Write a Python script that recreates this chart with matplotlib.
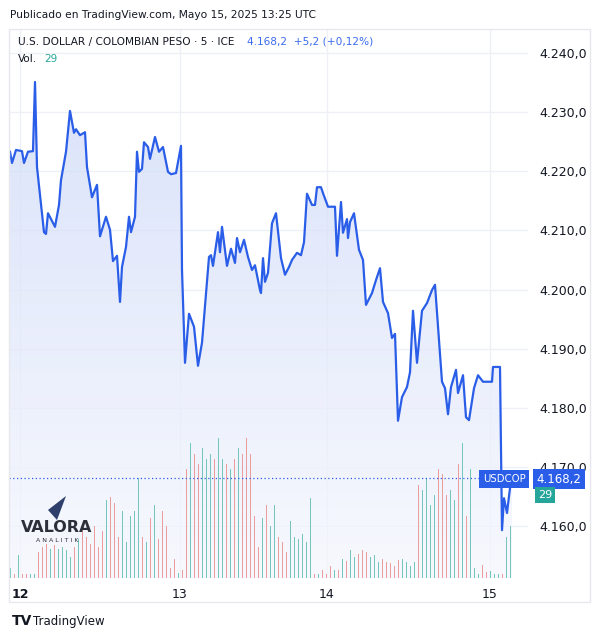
import numpy as np
import matplotlib
matplotlib.use("Agg")
import matplotlib.pyplot as plt
from matplotlib.colors import LinearSegmentedColormap
from matplotlib.patches import Polygon, Rectangle

# ---- data ----
t = [10,12,16,22,24,28,33,35,37,44,46,48,55,59,61,66,70,74,76,80,85,87,92,97,100,106,110,113,117,120,
     122,126,129,131,135,137,139,142,144,148,150,155,159,163,168,171,176,181,182,185,189,194,198,202,209,
     211,213,218,220,222,227,231,235,237,240,244,248,252,255,260,261,263,265,268,272,276,281,285,289,292,
     297,301,304,307,312,315,317,321,323,328,335,337,341,343,347,348,350,354,359,363,366,372,376,380,383,
     388,392,395,398,402,407,410,413,417,422,427,432,435,442,445,448,451,456,458,463,466,469,474,478,483,
     492,493,500,502,504,507,510,512]
price = [4223.3,4221.4,4223.6,4223.4,4221.4,4223.3,4223.4,4235.1,4220.7,4209.7,4209.4,4212.9,4210.6,4214.3,4218.5,
         4223.3,4230.2,4226.5,4227.1,4226.1,4226.6,4220.7,4215.6,4217.7,4209.0,4212.3,4210.1,4204.8,4205.7,4197.9,
         4203.8,4207.2,4212.3,4209.7,4212.3,4223.3,4219.9,4220.4,4224.9,4224.1,4222.1,4225.8,4223.3,4224.1,4219.9,
         4219.5,4219.7,4224.3,4203.3,4187.6,4195.9,4193.7,4187.1,4191.0,4205.5,
         4205.8,4204.0,4209.7,4206.3,4210.6,4204.0,4206.9,4204.5,4208.7,4206.3,4208.4,4205.5,4203.3,4204.1,4199.9,
         4199.4,4205.3,4201.3,4202.8,4211.2,4212.9,4205.3,4202.5,4203.8,4205.0,
         4206.2,4205.8,4208.0,4216.2,4214.3,4214.3,4217.3,4217.3,4216.3,4214.0,4214.0,4205.7,4214.8,4209.6,4211.9,
         4208.7,4211.4,4212.9,4206.7,4205.0,4197.4,4199.4,4201.6,4203.6,4197.9,
         4196.0,4191.8,4192.5,4177.8,4181.8,4183.5,4186.0,4196.4,4187.6,4196.4,4197.7,4199.9,4200.8,4184.4,4183.3,
         4178.9,4183.5,4186.4,4182.5,4185.5,4178.4,4177.9,4183.3,4185.5,4184.4,
         4184.4,4186.9,4186.9,4159.3,4164.7,4162.2,4166.4,4168.3]
volume = [10,4,22,4,4,4,4,25,30,33,28,32,28,30,27,20,30,38,45,40,33,50,30,45,75,78,72,40,65,35,
          60,65,96,40,35,58,70,38,65,50,10,18,5,8,105,130,120,110,125,115,120,115,135,115,110,105,115,125,120,135,
          120,60,30,58,70,50,70,40,35,25,55,40,38,42,35,77,4,4,8,4,12,8,8,18,16,27,20,23,27,25,
          20,22,15,18,15,14,12,17,18,15,12,15,90,85,95,70,80,105,100,80,85,75,110,130,60,105,
          10,4,13,6,7,4,4,4,40,50]
vol_t = [10 + 4 * i for i in range(len(volume))]
day_ticks = [20, 180, 327, 490]
day_labels = ["12", "13", "14", "15"]
price_ticks = [4160, 4170, 4180, 4190, 4200, 4210, 4220, 4230, 4240]
last_price = 4168.2

W, H = 598, 639
fig = plt.figure(figsize=(W / 100, H / 100), dpi=100)
plt.rcParams['font.family'] = ['DejaVu Sans']

def fx(x): return x / W
def fy(y): return 1 - y / H

fig.patches.append(Rectangle((fx(9), fy(602)), fx(590) - fx(9), fy(29) - fy(602),
                             transform=fig.transFigure, fill=False, ec='#e6e8ee', lw=1))

ax = fig.add_axes([fx(9), fy(578), fx(528) - fx(9), fy(29) - fy(578)])
ymin = 4160 - (578 - 526) / 5.9125
ymax = 4240 + (53 - 29) / 5.9125
ax.set_xlim(9, 528)
ax.set_ylim(ymin, ymax)

for d in day_ticks:
    ax.axvline(d, color='#eef0f5', lw=1, zorder=0)
for p in price_ticks:
    ax.axhline(p, color='#eef0f5', lw=1, zorder=0)

cmap = LinearSegmentedColormap.from_list('g', ['#f5f7fe', '#cbd7f8'])
grad = np.linspace(0, 1, 256).reshape(-1, 1)
im = ax.imshow(grad, cmap=cmap, aspect='auto', origin='lower',
               extent=[9, 528, ymin, ymax], zorder=0.5, alpha=0.75)
poly = Polygon(list(zip(t, price)) + [(t[-1], ymin), (t[0], ymin)], closed=True,
               transform=ax.transData, fc='none', ec='none')
ax.add_patch(poly)
im.set_clip_path(poly)

# volume: max bar (135) spans 140 px of the 549 px plot height
vscale = (ymax - ymin) * 140 / 549 / 135
pr_at = np.interp(vol_t, t, price)
cols = ['#74c6bd' if i == 0 or pr_at[i] >= pr_at[i - 1] else '#eb9c9c' for i in range(len(volume))]
ax.bar(vol_t, np.array(volume) * vscale, bottom=ymin, width=1.0, color=cols, zorder=1)

ax.plot(t, price, color='#2a5ee8', lw=1.6, zorder=3, solid_joinstyle='round')
ax.axhline(last_price, color='#2a5ee8', lw=0.9, ls=(0, (1, 2)), zorder=2)

ax.yaxis.tick_right()
ax.set_yticks(price_ticks)
ax.set_yticklabels([f"{p:,.1f}".replace(",", "X").replace(".", ",").replace("X", ".") for p in price_ticks])
ax.tick_params(axis='y', length=0, pad=8, labelsize=9, labelcolor='#131722')
ax.set_xticks(day_ticks)
ax.set_xticklabels(day_labels)
ax.tick_params(axis='x', length=0, pad=7, labelsize=9, labelcolor='#131722')
ax.get_xticklabels()[0].set_fontweight('bold')
for s in ax.spines.values():
    s.set_visible(False)

fig.text(fx(504), fy(479), "USDCOP", ha='center', va='center', color='white', fontsize=7.3,
         bbox=dict(boxstyle='square,pad=0.4', fc='#2a5ee8', ec='none'), zorder=10)
fig.text(fx(559), fy(479), "4.168,2", ha='center', va='center', color='white', fontsize=8.5,
         bbox=dict(boxstyle='square,pad=0.3', fc='#2a5ee8', ec='none'), zorder=10)
fig.text(fx(545), fy(495), "29", ha='center', va='center', color='white', fontsize=8,
         bbox=dict(boxstyle='square,pad=0.3', fc='#26a69a', ec='none'), zorder=10)

fig.text(fx(10), fy(15), "Publicado en TradingView.com, Mayo 15, 2025 13:25 UTC", ha='left', va='center',
         fontsize=7.7, color='#131722')
fig.text(fx(18), fy(42), "U.S. DOLLAR / COLOMBIAN PESO · 5 · ICE", ha='left', va='center',
         fontsize=7.6, color='#131722')
fig.text(fx(247), fy(42), "4.168,2  +5,2 (+0,12%)", ha='left', va='center', fontsize=7.6, color='#3b6cf0')
fig.text(fx(18), fy(59), "Vol.", ha='left', va='center', fontsize=7.6, color='#131722')
fig.text(fx(44), fy(59), "29", ha='left', va='center', fontsize=7.6, color='#26a69a')

fig.patches.append(Polygon([(fx(66), fy(496)), (fx(48), fy(510)), (fx(57), fy(520))], closed=True,
                           transform=fig.transFigure, fc='#2e3f6b', ec='none'))
fig.text(fx(57), fy(527), "VALORA", ha='center', va='center', fontsize=11.5, fontweight='bold', color='#2b2f3a')
fig.text(fx(57), fy(540), "A N A L I T I K", ha='center', va='center', fontsize=4.5, color='#2b2f3a')

fig.text(fx(12), fy(621), "TV", ha='left', va='center', fontsize=10, fontweight='bold', color='#131722')
fig.text(fx(33), fy(621), "TradingView", ha='left', va='center', fontsize=8.5, color='#131722')

fig.savefig("out.png", dpi=100, facecolor='white')
